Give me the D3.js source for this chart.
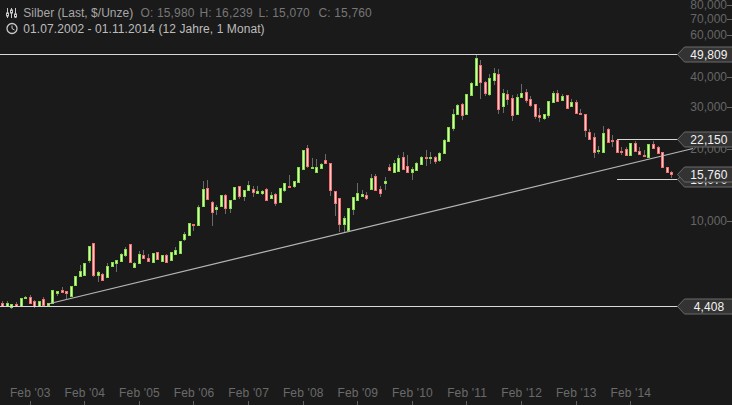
<!DOCTYPE html>
<html><head><meta charset="utf-8">
<style>html,body{margin:0;padding:0;background:#1a1a1a;overflow:hidden}svg{display:block;font-family:"Liberation Sans",Arial,sans-serif;font-size:12px}</style>
<script src="https://cdnjs.cloudflare.com/ajax/libs/d3/7.8.5/d3.min.js"></script>
</head><body><svg id="c" width="732" height="405"></svg>
<script>
const title="Silber (Last, $/Unze)";
const ohlcLabels=[["O:","15,980",140.5],["H:","16,239",199.5],["L:","15,070",258.5],["C:","15,760",318.5]];
const rangeText="01.07.2002 - 01.11.2014 (12 Jahre, 1 Monat)";
const open=[4.858,4.54,4.41,4.37,4.50,4.41,4.77,4.81,4.63,4.41,4.72,4.46,4.54,5.00,5.15,5.10,4.86,5.40,5.89,5.95,6.87,8.09,5.95,6.00,5.83,6.48,6.67,6.80,7.21,8.01,6.42,6.67,7.21,7.00,6.74,7.42,6.80,7.21,6.87,7.28,7.35,8.41,8.74,9.72,9.62,11.55,13.74,12.01,11.23,11.55,12.84,11.33,12.36,14.01,12.72,13.48,13.61,13.09,13.09,13.61,12.48,12.97,12.01,13.48,14.01,14.01,14.56,16.50,20.19,16.66,16.03,16.66,17.99,17.48,13.35,12.48,9.72,9.17,11.23,12.24,12.72,12.84,13.61,15.42,13.61,14.42,16.82,16.03,16.18,18.52,16.98,16.03,16.34,17.31,18.52,18.34,18.52,17.99,19.25,21.60,24.48,28.01,30.84,28.01,33.64,37.04,44.90,38.12,33.96,38.86,41.17,30.26,33.96,32.68,28.01,33.00,34.62,32.37,30.84,27.74,26.95,27.74,31.44,34.29,32.05,33.64,30.26,31.44,28.29,28.01,23.56,22.45,19.62,19.43,24.25,21.81,21.81,19.62,20.00,18.88,21.19,19.62,18.88,18.52,20.99,20.39,19.43,16.82,15.98];
const high=[4.858,4.63,4.63,4.50,4.59,4.77,4.86,4.91,4.68,4.63,4.81,4.54,5.15,5.10,5.30,5.10,5.35,5.89,6.55,6.67,7.86,8.09,6.18,6.06,6.67,6.74,6.87,7.35,7.79,8.01,6.74,7.49,7.56,7.28,7.35,7.42,7.21,7.28,7.42,7.79,8.25,9.00,9.81,9.72,11.67,14.70,14.84,12.12,11.67,12.84,12.97,12.24,13.87,14.01,13.48,14.70,14.01,14.01,13.48,13.74,13.22,13.09,13.74,14.42,15.57,14.70,16.82,19.81,20.79,18.34,18.17,17.48,19.06,17.48,13.35,12.48,10.49,11.33,12.60,14.42,13.48,13.22,15.72,15.72,14.01,15.27,17.31,17.99,18.88,19.43,18.88,16.82,17.65,18.70,19.81,19.43,18.70,19.43,22.02,24.72,29.39,30.84,31.14,33.96,38.12,49.92,47.11,38.49,41.17,43.62,43.20,35.64,35.30,33.64,33.96,37.40,35.64,33.31,30.84,29.68,28.01,31.75,34.96,35.30,33.96,33.64,32.37,32.05,29.39,28.01,24.25,23.33,20.59,24.96,24.48,22.89,21.81,20.39,20.39,21.19,21.60,20.39,19.81,20.99,21.60,20.59,19.43,16.82,16.239];
const low=[4.541,4.37,4.37,4.29,4.37,4.41,4.72,4.54,4.33,4.41,4.46,4.46,4.54,4.86,5.00,4.72,4.86,5.40,5.89,5.95,6.67,5.83,5.56,5.61,5.83,6.48,6.12,6.74,7.07,6.74,6.36,6.61,6.94,6.80,6.74,6.94,6.80,6.74,6.87,7.28,7.35,8.25,8.74,9.08,9.62,11.55,12.36,9.53,10.60,11.55,10.70,10.80,12.36,12.36,12.12,13.35,12.60,13.09,12.84,12.24,12.48,11.55,12.01,13.22,13.87,13.74,14.56,16.34,16.66,16.50,16.03,16.50,17.31,12.72,10.49,9.00,9.00,9.17,10.60,12.24,12.60,12.24,13.61,13.35,12.60,13.48,16.18,16.03,16.18,16.50,15.87,14.84,16.34,17.31,16.98,17.31,17.31,17.65,19.25,21.60,23.78,28.01,26.44,27.74,33.64,37.04,32.37,33.31,33.31,37.04,28.01,28.29,30.55,26.19,28.01,32.68,31.14,29.97,26.69,25.94,26.44,26.95,31.44,31.44,32.05,29.68,30.26,28.29,27.74,22.45,22.02,18.34,19.06,19.43,21.19,20.39,19.43,18.88,18.88,18.88,19.43,18.88,18.52,18.52,20.19,19.25,16.66,15.87,15.07];
const close=[4.541,4.41,4.54,4.50,4.41,4.77,4.81,4.54,4.41,4.63,4.46,4.54,5.15,5.10,5.05,5.00,5.35,5.89,6.18,6.67,7.86,5.95,6.12,5.67,6.48,6.74,6.87,7.28,7.64,6.74,6.67,7.28,7.00,6.80,7.35,6.94,7.21,6.74,7.42,7.56,8.25,8.82,9.81,9.62,11.44,13.61,12.36,10.91,11.44,12.84,11.33,12.24,13.87,12.72,13.48,14.14,13.22,13.35,13.35,12.24,12.84,11.89,13.74,14.42,13.87,14.70,16.82,19.81,16.98,16.82,16.82,17.31,17.48,13.48,11.89,9.72,10.29,11.33,12.60,13.09,12.97,12.48,15.13,13.48,13.09,14.70,16.34,17.48,18.34,16.50,16.03,16.50,17.48,18.52,18.34,18.52,17.82,19.25,21.81,24.72,28.01,30.55,27.74,33.96,37.75,48.03,38.12,34.29,39.62,41.57,29.39,34.29,32.37,27.74,33.00,34.29,32.05,30.55,27.48,27.21,28.01,31.75,34.29,31.75,33.31,29.68,31.44,28.29,28.01,24.01,22.02,19.43,19.81,23.33,21.39,21.60,19.43,19.43,18.88,21.19,19.62,19.06,18.70,20.99,20.19,19.25,16.82,16.03,15.76];
const axisTicks=[10000,20000,30000,40000,60000,70000,80000];
const yearLabels=["Feb '03","Feb '04","Feb '05","Feb '06","Feb '07","Feb '08","Feb '09","Feb '10","Feb '11","Feb '12","Feb '13","Feb '14"];
const yearTickMonths=[7,19,31,43,55,67,79,91,103,115,127,139];
const trendMonths=[11,152.8];
const trendPrices=[4.498,20.1];
const levels=[{v:4408,t:"4,408",from:-1},{v:49809,t:"49,809",from:-1},{v:14990,t:"15,070",from:136.1},{v:22050,t:"22,150",from:136.1},{v:15760,t:"15,760",from:null}];

const svg=d3.select("#c");
const x=d3.scaleLinear().domain([0,148]).range([-2.2,671.2]);
const y=d3.scaleLog().domain([10000,40000]).range([221,77]);
const px=i=>Math.round(x(i));
const py=v=>y(v*1000);

const yG=svg.append("g");
yG.selectAll("text").data(axisTicks).join("text").attr("x",727).attr("y",d=>y(d)+4).attr("text-anchor","end").attr("fill","#666").text(d3.format(","));
yG.selectAll("line").data(axisTicks).join("line").attr("x1",727).attr("x2",732).attr("y1",d=>Math.round(y(d))+.5).attr("y2",d=>Math.round(y(d))+.5).attr("stroke","#666");

const xG=svg.append("g");
xG.selectAll("text").data(yearLabels).join("text").attr("x",(d,i)=>x(yearTickMonths[i])+.6).attr("y",397).attr("text-anchor","middle").attr("fill","#6a6a6a").attr("letter-spacing",.15).text(d=>d);
xG.selectAll("line").data(yearTickMonths).join("line").attr("x1",d=>px(d)+.5).attr("x2",d=>px(d)+.5).attr("y1",401).attr("y2",405).attr("stroke","#5f5f5f");

const idx=d3.range(open.length);
const g=svg.append("g");
g.selectAll("line").data(idx).join("line")
 .attr("x1",i=>px(i)+.5).attr("x2",i=>px(i)+.5)
 .attr("y1",i=>Math.round(py(high[i]))).attr("y2",i=>Math.round(py(low[i])))
 .attr("stroke","#6a6a6a");
g.selectAll("rect").data(idx).join("rect")
 .attr("x",i=>px(i)-.5).attr("width",2)
 .attr("y",i=>Math.round(py(Math.max(open[i],close[i])))+.5)
 .attr("height",i=>Math.max(1,Math.round(py(Math.min(open[i],close[i])))-Math.round(py(Math.max(open[i],close[i])))))
 .attr("fill",i=>close[i]>=open[i]?"#d2ffb0":"#ffcaca")
 .attr("stroke",i=>close[i]>=open[i]?"#85dd45":"#f47070").attr("stroke-width",1);

svg.append("path").attr("d",d3.line().x(d=>x(d[0])).y(d=>py(d[1]))(d3.zip(trendMonths,trendPrices))).attr("stroke","#b4b4b4").attr("stroke-width",1.2).attr("fill","none");

const lv=svg.append("g");
levels.forEach(l=>{
 const yy=Math.round(y(l.v));
 if(l.from!==null) lv.append("line").attr("x1",x(l.from)).attr("x2",678).attr("y1",yy+.5).attr("y2",yy+.5).attr("stroke","#d8d8d8");
 lv.append("path").attr("d",`M677.5 ${yy+.5}L684.5 ${yy-7}H733V${yy+8}H684.5Z`).attr("fill","#333").attr("stroke","#6b6b6b");
 lv.append("text").attr("x",709).attr("y",yy+5).attr("text-anchor","middle").attr("fill","#f2f2f2").attr("letter-spacing",.1).text(l.t);
});

const h=svg.append("g");
h.append("text").attr("x",23.3).attr("y",17).attr("fill","#a6a6a6").attr("textLength",110).attr("lengthAdjust","spacing").text(title);
ohlcLabels.forEach(d=>{
 h.append("text").attr("x",d[2]).attr("y",17).attr("fill","#777").attr("letter-spacing",.15).text(d[0]+" "+d[1]);
});
h.append("text").attr("x",23.3).attr("y",33).attr("fill","#bdbdbd").attr("letter-spacing",.08).text(rangeText);
const ic=h.append("g").attr("stroke","#c8c8c8").attr("fill","none");
[[7,8,18],[11,8,18],[15,8,18]].forEach(a=>ic.append("line").attr("x1",a[0]+.5).attr("x2",a[0]+.5).attr("y1",a[1]).attr("y2",a[2]));
[[7,13],[11,10],[15,14]].forEach(a=>ic.append("rect").attr("x",a[0]-.5).attr("y",a[1]).attr("width",2).attr("height",3).attr("fill","#1a1a1a"));
h.append("circle").attr("cx",12).attr("cy",28.5).attr("r",5).attr("fill","none").attr("stroke","#c8c8c8").attr("stroke-width",1.3);
h.append("path").attr("d","M12 25.5V28.5L14.5 30").attr("fill","none").attr("stroke","#c8c8c8");
</script></body></html>
